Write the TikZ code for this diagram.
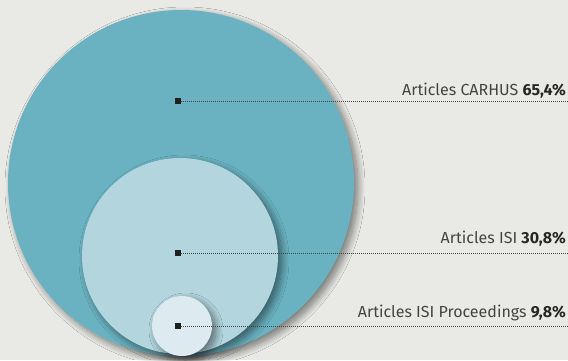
\documentclass[tikz,border=0pt]{standalone}
\usepackage{fontspec}
\setmainfont{Fira Sans}
\usetikzlibrary{positioning,shadows.blur}
\tikzstyle{diagram} = [x = 1pt, y = -1pt]
\definecolor{bgColor}{HTML}{E9E9E5}
\definecolor{carhusColor}{HTML}{6AB2C1}
\definecolor{isiColor}{HTML}{B2D5DE}
\definecolor{procColor}{HTML}{DDEAF0}
\definecolor{textColor}{HTML}{444444}
\tikzstyle{bubbleStyle} = [circle, inner sep=0pt, blur shadow={shadow xshift=4pt, shadow yshift=-4pt, shadow blur radius=7pt, shadow blur steps=12, shadow opacity=50}]
\tikzstyle{markerStyle} = [fill=black!88, inner sep=0pt, minimum size=6pt]
\tikzstyle{leaderLine} = [color=textColor, line width=.9pt, dash pattern=on .9pt off 1.1pt]
\tikzstyle{labelStyle} = [color=textColor, font=\fontsize{16}{18}\selectfont, anchor=base east, inner sep=0pt]
\newcommand{\bubble}[5]{\node [bubbleStyle, fill=#4, minimum size=#5pt] (#1) at (#2, #3) {};}
\newcommand{\marker}[3]{\node [markerStyle] (#1) at (#2, #3) {};}
\newcommand{\leader}[4]{
  \coordinate (#1End) at (568, #2);
  \draw [leaderLine] (#1.east) -- (#1End);
  \node [labelStyle] (#1Label) at (566, #3) {#4};
}

\begin{document}
\begin{tikzpicture}[diagram]
  \fill [bgColor] (0,0) rectangle (568,360);
  \useasboundingbox (0,0) rectangle (568,360);
  \bubble{carhus}{181}{183}{carhusColor}{346}
  \bubble{isi}{180}{256}{isiColor}{196}
  \bubble{proc}{182}{326}{procColor}{60}
  \marker{carhusDot}{178}{101}
  \marker{isiDot}{178}{253}
  \marker{procDot}{178}{326}
  \leader{carhusDot}{101}{95}{Articles CARHUS \textbf{\color{black!85}65,4\%}}
  \leader{isiDot}{253}{243}{Articles ISI \textbf{\color{black!85}30,8\%}}
  \leader{procDot}{326}{317}{Articles ISI Proceedings \textbf{\color{black!85}9,8\%}}
\end{tikzpicture}
\end{document}
